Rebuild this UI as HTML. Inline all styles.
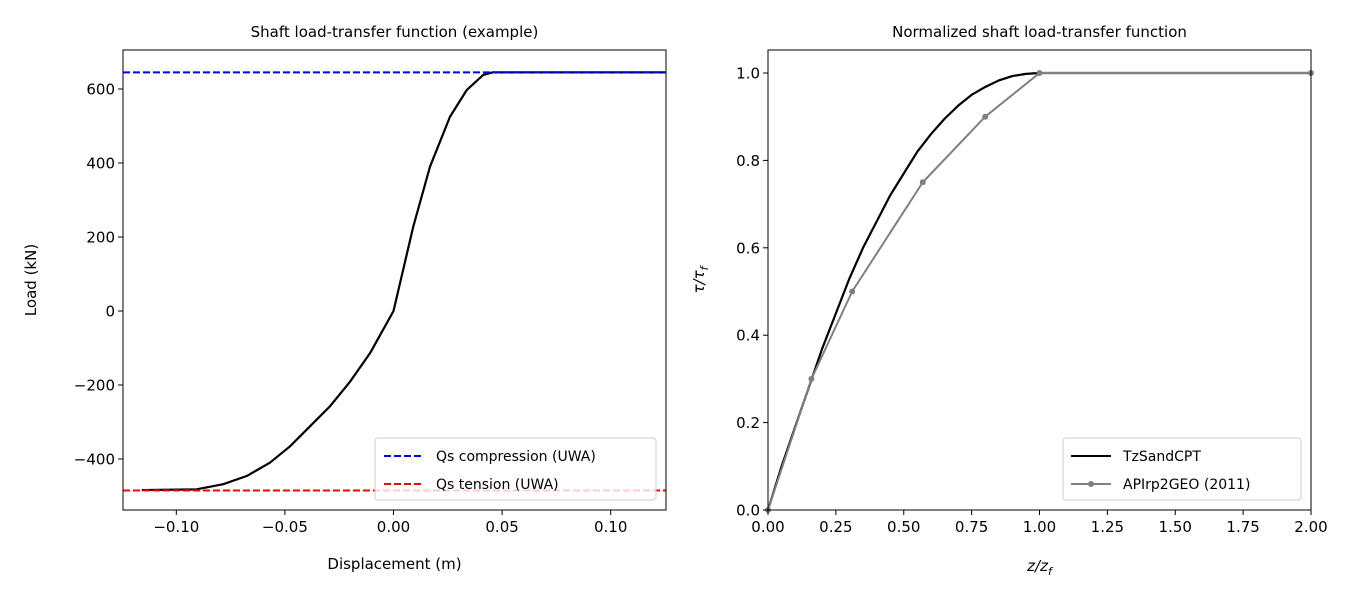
<!DOCTYPE html>
<html><head><meta charset="utf-8"><style>
body{margin:0;background:#fff}
svg{font-family:"DejaVu Sans","Liberation Sans",sans-serif}
</style></head><body>
<svg id="c" width="1350" height="600" xmlns="http://www.w3.org/2000/svg"></svg>
<script>
// Left chart data
const leftXTicks=[-0.10,-0.05,0.00,0.05,0.10];
const leftXTickLabels=["\u22120.10","\u22120.05","0.00","0.05","0.10"];
const leftYTicks=[-400,-200,0,200,400,600];
const leftYTickLabels=["\u2212400","\u2212200","0","200","400","600"];
const qsCompression=645;
const qsTension=-485;
const curveDisp=[-0.1159,-0.0906,-0.0784,-0.0676,-0.0569,-0.0477,-0.0385,-0.0293,-0.0200,-0.0108,0,0.0091,0.0168,0.026,0.0337,0.0413,0.0458,0.125];
const curveLoad=[-484,-482,-468,-446,-410,-366,-312,-258,-191,-114,0,228,390,525,597,638,645,645];
// Right chart data
const rightXTicks=[0,0.25,0.5,0.75,1,1.25,1.5,1.75,2];
const rightXTickLabels=["0.00","0.25","0.50","0.75","1.00","1.25","1.50","1.75","2.00"];
const rightYTicks=[0,0.2,0.4,0.6,0.8,1.0];
const rightYTickLabels=["0.0","0.2","0.4","0.6","0.8","1.0"];
const tzX=[0,0.05,0.1,0.15,0.2,0.25,0.3,0.35,0.4,0.45,0.5,0.55,0.6,0.65,0.7,0.75,0.8,0.85,0.9,0.95,1,2];
const tzY=[0,0.1,0.19,0.28,0.37,0.45,0.53,0.6,0.66,0.72,0.77,0.82,0.86,0.895,0.925,0.95,0.968,0.983,0.993,0.998,1,1];
const apiX=[0,0.16,0.31,0.57,0.8,1,2];
const apiY=[0,0.3,0.5,0.75,0.9,1,1];

const svg=document.getElementById('c');
const NS="http://www.w3.org/2000/svg";
function el(t,a,parent){const e=document.createElementNS(NS,t);for(const k in a)e.setAttribute(k,a[k]);(parent||svg).appendChild(e);return e;}

const L={x0:123,x1:666,y0:50,y1:510};
const lx=v=>393.5+v*2172;
const ly=v=>311-v*0.37;
const R={x0:768,x1:1311,y0:50,y1:510};
const rx=v=>768+v*271.5;
const ry=v=>510-v*437;

function axes(A,name){
  const r=el('rect',{x:A.x0,y:A.y0,width:A.x1-A.x0,height:A.y1-A.y0,fill:'none',stroke:'#000','stroke-width':1});
  
  
}
function ticks(A,xs,xl,ys,yl,fx,fy,name){
  xs.forEach((v,i)=>{const x=fx(v);
    el('line',{x1:x,x2:x,y1:A.y1,y2:A.y1+5,stroke:'#000'});
    const t=el('text',{x:x,y:A.y1+22,'font-size':15,'text-anchor':'middle'});t.textContent=xl[i];
    
    });
  ys.forEach((v,i)=>{const y=fy(v);
    el('line',{x1:A.x0-5,x2:A.x0,y1:y,y2:y,stroke:'#000'});
    const t=el('text',{x:A.x0-8,y:y+5.5,'font-size':15,'text-anchor':'end'});t.textContent=yl[i];
    
    });
}
function poly(xs,ys,fx,fy,attrs,name){
  const p=el('polyline',Object.assign({points:xs.map((v,i)=>fx(v)+','+fy(ys[i])).join(' '),fill:'none','stroke-linejoin':'round'},attrs));
  
  
  return p;
}

const defs=el('defs',{});
const c1=el('clipPath',{id:'cl'},defs);el('rect',{x:L.x0,y:L.y0,width:L.x1-L.x0,height:L.y1-L.y0},c1);
const c2=el('clipPath',{id:'cr'},defs);el('rect',{x:R.x0-4,y:R.y0,width:R.x1-R.x0+8,height:R.y1-R.y0+4},c2);

// Left plot
const gl=el('g',{'clip-path':'url(#cl)'});
gl.appendChild(poly(curveDisp,curveLoad,lx,ly,{stroke:'#000','stroke-width':2.2},'load-transfer-curve'));
let p=el('line',{x1:L.x0,x2:L.x1,y1:ly(qsCompression),y2:ly(qsCompression),stroke:'#0000ff','stroke-width':2,'stroke-dasharray':'7,3'},gl);


p=el('line',{x1:L.x0,x2:L.x1,y1:ly(qsTension),y2:ly(qsTension),stroke:'#ff0000','stroke-width':2,'stroke-dasharray':'7,3'},gl);


axes(L,'left-axes');
ticks(L,leftXTicks,leftXTickLabels,leftYTicks,leftYTickLabels,lx,ly,'left');
let t=el('text',{x:394.5,y:37,'font-size':15,'text-anchor':'middle'});t.textContent='Shaft load-transfer function (example)';

t=el('text',{x:394.5,y:569,'font-size':15,'text-anchor':'middle'});t.textContent='Displacement (m)';

t=el('text',{x:0,y:0,'font-size':15,'text-anchor':'middle',transform:'translate(36,280) rotate(-90)'});t.textContent='Load (kN)';

let lg=el('g',{});
el('rect',{x:375,y:438,width:281,height:62,rx:3,fill:'#fff','fill-opacity':0.8,stroke:'#ccc'},lg);
el('line',{x1:384,x2:424,y1:456,y2:456,stroke:'#0000ff','stroke-width':2,'stroke-dasharray':'7,3'},lg);
el('line',{x1:384,x2:424,y1:484,y2:484,stroke:'#ff0000','stroke-width':2,'stroke-dasharray':'7,3'},lg);
t=el('text',{x:436,y:461,'font-size':14},lg);t.textContent='Qs compression (UWA)';

t=el('text',{x:436,y:489,'font-size':14},lg);t.textContent='Qs tension (UWA)';


// Right plot
const gr=el('g',{'clip-path':'url(#cr)'});
gr.appendChild(poly(tzX,tzY,rx,ry,{stroke:'#000','stroke-width':2.2},'tzsandcpt-line'));
gr.appendChild(poly(apiX,apiY,rx,ry,{stroke:'#808080','stroke-width':2},'apirp2geo-line'));
apiX.forEach((v,i)=>{const m=el('circle',{cx:rx(v),cy:ry(apiY[i]),r:3,fill:'#808080'},gr);
  });
axes(R,'right-axes');
ticks(R,rightXTicks,rightXTickLabels,rightYTicks,rightYTickLabels,rx,ry,'right');
t=el('text',{x:1039.5,y:37,'font-size':15,'text-anchor':'middle'});t.textContent='Normalized shaft load-transfer function';

t=el('text',{x:1039.5,y:571,'font-size':15,'text-anchor':'middle','font-style':'italic'});t.textContent='z/z';
const s1=el('tspan',{'font-size':11,dy:4},t);s1.textContent='f';

t=el('text',{x:0,y:0,'font-size':15,'text-anchor':'middle','font-style':'italic',transform:'translate(704,280) rotate(-90)'});t.textContent='\u03c4/\u03c4';
const s2=el('tspan',{'font-size':11,dy:4},t);s2.textContent='f';

lg=el('g',{});
el('rect',{x:1063,y:438,width:238,height:62,rx:3,fill:'#fff','fill-opacity':0.8,stroke:'#ccc'},lg);
el('line',{x1:1071,x2:1111,y1:456,y2:456,stroke:'#000','stroke-width':2},lg);
el('line',{x1:1071,x2:1111,y1:484,y2:484,stroke:'#808080','stroke-width':2},lg);
el('circle',{cx:1091,cy:484,r:3,fill:'#808080'},lg);
t=el('text',{x:1123,y:461,'font-size':14},lg);t.textContent='TzSandCPT';

t=el('text',{x:1123,y:489,'font-size':14},lg);t.textContent='APIrp2GEO (2011)';

</script>
</body></html>
